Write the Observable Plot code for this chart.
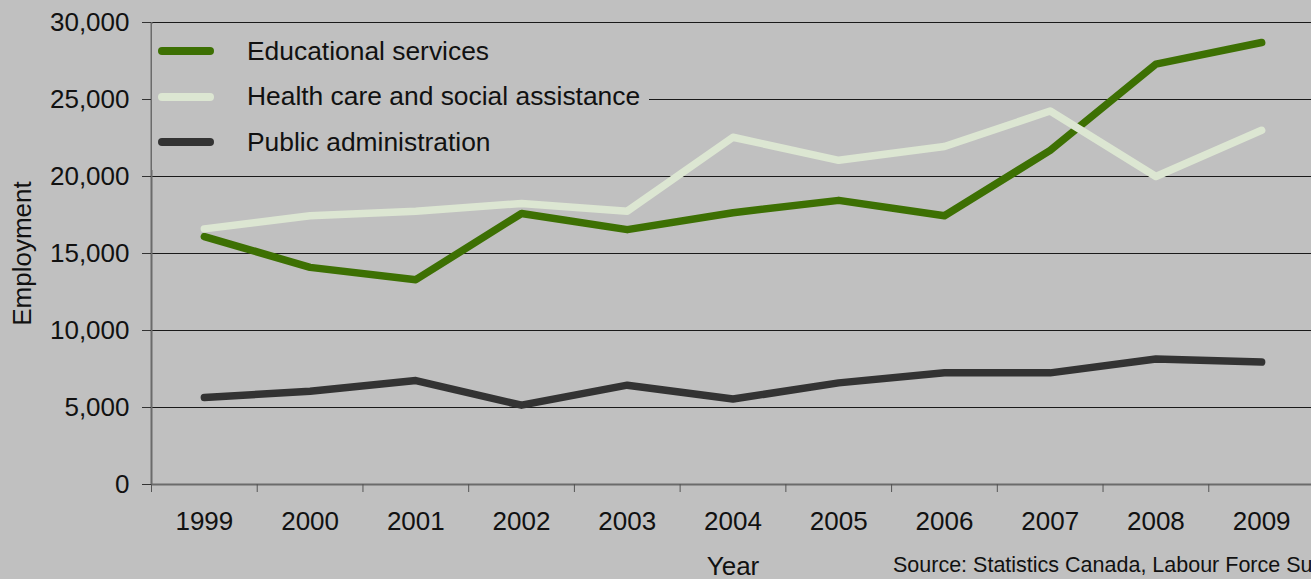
<!DOCTYPE html>
<html>
<head>
<meta charset="utf-8">
<script src="https://cdn.jsdelivr.net/npm/d3@7"></script>
<script src="https://cdn.jsdelivr.net/npm/@observablehq/plot@0.6"></script>
<style>
  html, body { margin: 0; padding: 0; background: #c0c0c0; overflow: hidden; }
  #wrap { position: relative; width: 1311px; height: 579px; overflow: hidden; font-family: "Liberation Sans", Arial, sans-serif; color: #111; }
  #legend { position: absolute; left: 152px; top: 24px; width: 497px; height: 146px; background: #c0c0c0; padding-top: 4px; box-sizing: border-box; }
  .row { height: 45.7px; display: flex; align-items: center; position: relative; }
  .sw { position: absolute; left: 6px; width: 56px; height: 8px; border-radius: 4px; }
  .lab { position: absolute; left: 95px; font-size: 26.4px; line-height: 1; white-space: nowrap; }
  #source { position: absolute; left: 893px; top: 555px; font-size: 21.5px; white-space: nowrap; line-height: 1; }
</style>
</head>
<body>
<div id="wrap">
  <div id="chart"></div>
  <div id="legend"></div>
  <div id="source"></div>
</div>
<script>
const years = [1999, 2000, 2001, 2002, 2003, 2004, 2005, 2006, 2007, 2008, 2009];
const seriesNames = ["Educational services", "Health care and social assistance", "Public administration"];
const seriesColors = ["#3d7003", "#dce6d2", "#333333"];
const educational = [16100, 14100, 13300, 17600, 16550, 17650, 18450, 17450, 21700, 27300, 28700];
const health = [16600, 17450, 17750, 18250, 17750, 22550, 21050, 21950, 24250, 20000, 23000];
const publicAdmin = [5650, 6050, 6750, 5150, 6450, 5550, 6600, 7250, 7250, 8150, 7950];
const yTicks = [0, 5000, 10000, 15000, 20000, 25000, 30000];
const sourceText = "Source: Statistics Canada, Labour Force Survey";

const seriesValues = [educational, health, publicAdmin];
const data = [];
seriesNames.forEach((name, i) => {
  years.forEach((yr, j) => data.push({series: name, year: yr, value: seriesValues[i][j]}));
});
const boundaries = years.map(y => y - 0.5).concat([years[years.length - 1] + 0.5]);
const xDomain = [boundaries[0], boundaries[boundaries.length - 1]];
const textColor = "#111";

const chart = Plot.plot({
  width: 1314,
  height: 579,
  marginLeft: 151,
  marginRight: 0,
  marginTop: 22,
  marginBottom: 95,
  style: {background: "#c0c0c0", maxWidth: "none", fontFamily: '"Liberation Sans", Arial, sans-serif', color: textColor, overflow: "visible"},
  x: {domain: xDomain, axis: null},
  y: {domain: [0, 30000], axis: null},
  color: {domain: seriesNames, range: seriesColors},
  marks: [
    Plot.gridY(yTicks, {stroke: "#1a1a1a", strokeOpacity: 1, strokeWidth: 1.2}),
    Plot.ruleY([0], {stroke: "#6b6b6b", strokeWidth: 2}),
    Plot.ruleX([xDomain[0]], {stroke: "#6b6b6b", strokeWidth: 2}),
    Plot.axisY({ticks: yTicks, tickSize: 9, tickPadding: 13, tickFormat: d3.format(","), fontSize: 26, label: null, stroke: "#333"}),
    Plot.axisX({ticks: boundaries, tickSize: 8, tickFormat: () => "", label: null, stroke: "#555"}),
    Plot.axisX({ticks: years, tickSize: 0, tickPadding: 27, tickFormat: d => String(d), fontSize: 26, label: null}),
    Plot.line(data, {x: "year", y: "value", z: "series", stroke: "series", strokeWidth: 7.5, strokeLinecap: "round", strokeLinejoin: "round"}),
    Plot.text(["Employment"], {frameAnchor: "left", rotate: -90, dx: -129, fontSize: 26, textAnchor: "middle", fill: textColor}),
    Plot.text(["Year"], {frameAnchor: "bottom", dy: 90, fontSize: 26, textAnchor: "middle", fill: textColor})
  ]
});
document.getElementById("chart").appendChild(chart);

const legend = document.getElementById("legend");
seriesNames.forEach((name, i) => {
  const row = document.createElement("div");
  row.className = "row";
  const sw = document.createElement("div");
  sw.className = "sw";
  sw.style.background = seriesColors[i];
  const lab = document.createElement("div");
  lab.className = "lab";
  lab.textContent = name;
  row.appendChild(sw);
  row.appendChild(lab);
  legend.appendChild(row);
});
document.getElementById("source").textContent = sourceText;
</script>
</body>
</html>
